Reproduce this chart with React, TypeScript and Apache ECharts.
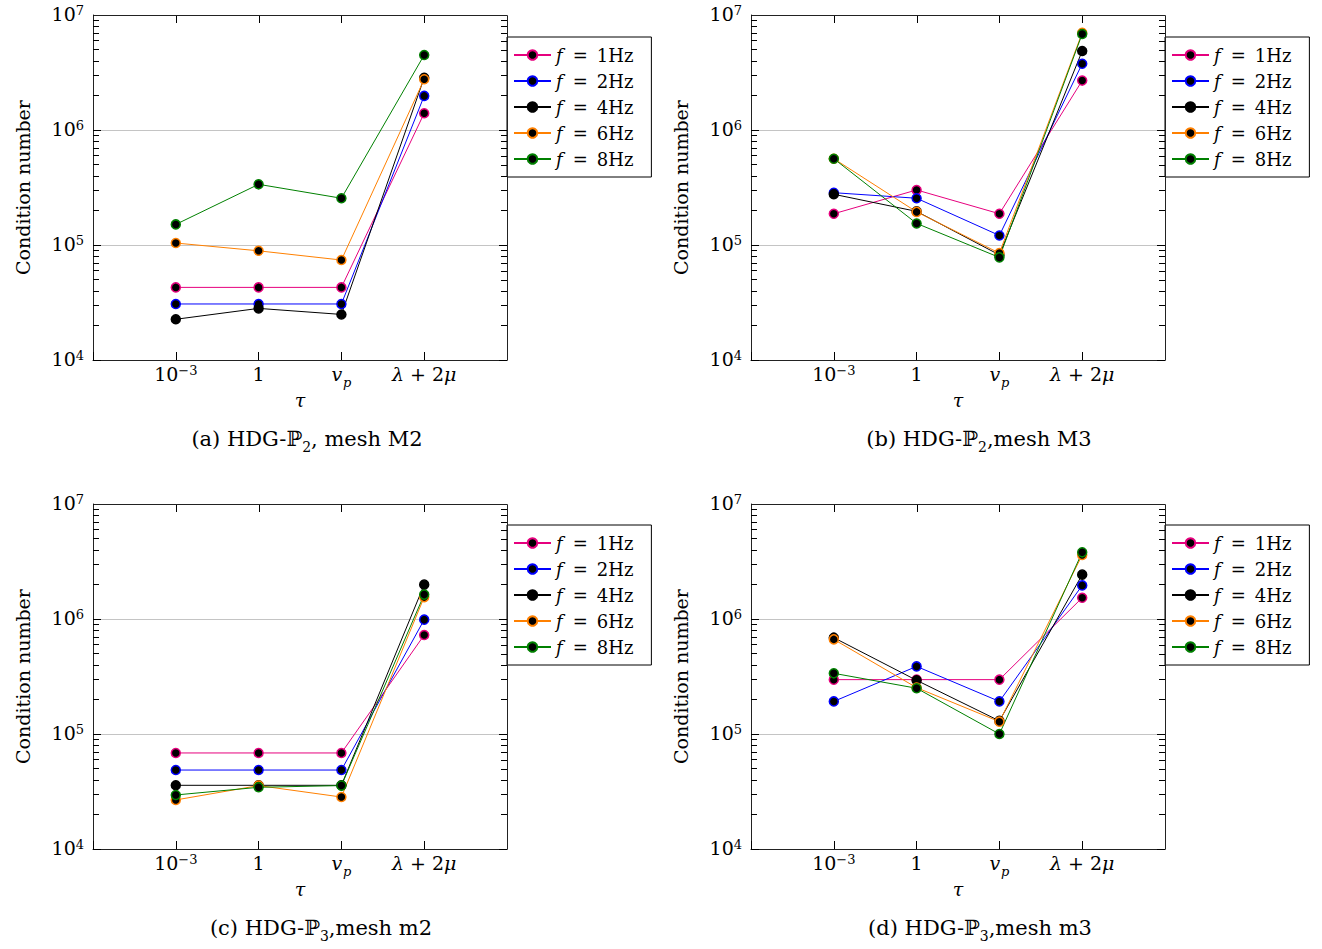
import React, { useEffect, useRef } from 'react';
import * as echarts from 'echarts';

// ---- data ----
const tauLabels = ['{b|10}{s|−3}', '{b|1}', '{i|v}{p|p}', '{i|λ}{b| + 2}{i|μ}'];
const tauPositions = [0, 1, 2, 3];
const seriesNames = ['f = 1Hz', 'f = 2Hz', 'f = 4Hz', 'f = 6Hz', 'f = 8Hz'];
const seriesColors = ['#e6007e', '#0000ff', '#000000', '#ff8000', '#008000'];

// y-axis tick values for the mirrored right-hand ticks (log axis, 10^4 .. 10^7)
const yMajorTicks = [1e4, 1e5, 1e6, 1e7];
const yMinorTicks = [
  2e4, 3e4, 4e4, 5e4, 6e4, 7e4, 8e4, 9e4,
  2e5, 3e5, 4e5, 5e5, 6e5, 7e5, 8e5, 9e5,
  2e6, 3e6, 4e6, 5e6, 6e6, 7e6, 8e6, 9e6,
];

// (a) HDG-P2, mesh M2
const a1Hz = [4.28e4, 4.28e4, 4.28e4, 1.4e6];
const a2Hz = [3.07e4, 3.07e4, 3.07e4, 1.98e6];
const a4Hz = [2.26e4, 2.81e4, 2.49e4, 2.85e6];
const a6Hz = [1.04e5, 8.9e4, 7.4e4, 2.76e6];
const a8Hz = [1.51e5, 3.37e5, 2.55e5, 4.49e6];
// (b) HDG-P2, mesh M3
const b1Hz = [1.87e5, 3.01e5, 1.87e5, 2.69e6];
const b2Hz = [2.85e5, 2.55e5, 1.21e5, 3.77e6];
const b4Hz = [2.76e5, 1.96e5, 8.2e4, 4.86e6];
const b6Hz = [5.63e5, 1.94e5, 8.5e4, 7.0e6];
const b8Hz = [5.63e5, 1.54e5, 7.8e4, 6.84e6];
// (c) HDG-P3, mesh m2
const c1Hz = [6.84e4, 6.84e4, 6.84e4, 7.26e5];
const c2Hz = [4.86e4, 4.86e4, 4.86e4, 9.87e5];
const c4Hz = [3.58e4, 3.58e4, 3.58e4, 1.99e6];
const c6Hz = [2.67e4, 3.56e4, 2.83e4, 1.55e6];
const c8Hz = [2.95e4, 3.44e4, 3.56e4, 1.63e6];
// (d) HDG-P3, mesh m3
const d1Hz = [2.97e5, 2.97e5, 2.97e5, 1.53e6];
const d2Hz = [1.92e5, 3.87e5, 1.92e5, 1.96e6];
const d4Hz = [6.88e5, 2.93e5, 1.3e5, 2.43e6];
const d6Hz = [6.65e5, 2.53e5, 1.28e5, 3.6e6];
const d8Hz = [3.37e5, 2.5e5, 1.0e5, 3.8e6];

const captions = [
  '{t|(a) HDG-ℙ}{sub|2}{t|, mesh M2}',
  '{t|(b) HDG-ℙ}{sub|2}{t|,mesh M3}',
  '{t|(c) HDG-ℙ}{sub|3}{t|,mesh m2}',
  '{t|(d) HDG-ℙ}{sub|3}{t|,mesh m3}',
];

const FONT = '"DejaVu Serif", "Liberation Serif", serif';

const panels = [
  { data: [a1Hz, a2Hz, a4Hz, a6Hz, a8Hz], left: 93, top: 15, legLeft: 507, legTop: 37, cx: 307, cy: 441 },
  { data: [b1Hz, b2Hz, b4Hz, b6Hz, b8Hz], left: 751, top: 15, legLeft: 1165, legTop: 37, cx: 979, cy: 441 },
  { data: [c1Hz, c2Hz, c4Hz, c6Hz, c8Hz], left: 93, top: 504, legLeft: 507, legTop: 525, cx: 321, cy: 930 },
  { data: [d1Hz, d2Hz, d4Hz, d6Hz, d8Hz], left: 751, top: 504, legLeft: 1165, legTop: 525, cx: 980, cy: 930 },
];

const X_MIN = -1;
const X_MAX = 4;
const Y_MIN = 1e4;
const Y_MAX = 1e7;
const tickColor = '#000000';
const borderColor = '#222222';

const crisp = (v: number) => Math.round(v) + 0.5;

export default function App() {
  const ref = useRef<HTMLDivElement>(null);
  useEffect(() => {
    if (!ref.current) return;
    const chart = echarts.init(ref.current, undefined, { renderer: 'svg' });

    const grid: any[] = [];
    const xAxis: any[] = [];
    const yAxis: any[] = [];
    const series: any[] = [];
    const legend: any[] = [];
    const graphic: any[] = [];

    const labelRich = {
      b: { fontSize: 19, fontFamily: FONT, lineHeight: 22, verticalAlign: 'top', color: '#000' },
      i: { fontSize: 19, fontFamily: FONT, fontStyle: 'italic', lineHeight: 22, verticalAlign: 'top', color: '#000' },
      s: { fontSize: 13, fontFamily: FONT, lineHeight: 13, verticalAlign: 'top', color: '#000' },
      p: { fontSize: 13, fontFamily: FONT, fontStyle: 'italic', lineHeight: 13, verticalAlign: 'top', padding: [12, 0, 0, 1], color: '#000' },
    };

    const yTickData = [
      ...yMajorTicks.map((v) => [X_MAX, v, 8]),
      ...yMinorTicks.map((v) => [X_MAX, v, 6]),
    ];
    const xTickData = tauPositions.map((p) => [p, Y_MAX, 8]);

    panels.forEach((pn, gi) => {
      grid.push({ left: pn.left, top: pn.top, width: 414, height: 345 });
      xAxis.push({
        type: 'value', gridIndex: gi, min: X_MIN, max: X_MAX, interval: 1,
        axisLine: { show: true, onZero: false, lineStyle: { color: borderColor, width: 1 } },
        splitLine: { show: false },
        axisTick: { show: true, inside: true, length: 8, lineStyle: { color: tickColor, width: 1 } },
        axisLabel: {
          show: true, margin: 4,
          formatter: (v: number) => (v >= 0 && v < tauLabels.length ? tauLabels[v] : ''),
          rich: labelRich,
        },
        name: 'τ', nameLocation: 'middle', nameGap: 30,
        nameTextStyle: { fontFamily: FONT, fontSize: 19, fontStyle: 'italic', color: '#000' },
      });
      yAxis.push({
        type: 'log', logBase: 10, gridIndex: gi, min: Y_MIN, max: Y_MAX,
        axisLine: { show: true, onZero: false, lineStyle: { color: borderColor, width: 1 } },
        axisTick: { show: true, inside: true, length: 8, lineStyle: { color: tickColor, width: 1 } },
        minorTick: { show: true, splitNumber: 9, length: 6, lineStyle: { color: tickColor, width: 1 } },
        splitLine: { show: true, lineStyle: { color: '#c4c4c4', width: 1 } },
        axisLabel: {
          show: true, margin: 9,
          formatter: (v: number) => '{b|10}{s|' + Math.round(Math.log10(v)) + '}',
          rich: labelRich,
        },
        name: 'Condition number', nameLocation: 'middle', nameGap: 61,
        nameTextStyle: { fontFamily: FONT, fontSize: 19, color: '#000' },
      });

      // mirrored y ticks on the right edge (inward)
      series.push({
        type: 'custom', xAxisIndex: gi, yAxisIndex: gi, silent: true, z: 4, clip: false,
        data: yTickData,
        renderItem: (params: any, api: any) => {
          const v = api.value(1);
          const len = api.value(2);
          const pR = api.coord([X_MAX, v]);
          const y = crisp(pR[1]);
          return { type: 'line', shape: { x1: pR[0] - len, y1: y, x2: pR[0], y2: y }, style: { stroke: tickColor, lineWidth: 1 } };
        },
      });
      // mirrored x ticks on the top edge (inward)
      series.push({
        type: 'custom', xAxisIndex: gi, yAxisIndex: gi, silent: true, z: 4, clip: false,
        data: xTickData,
        renderItem: (params: any, api: any) => {
          const x = api.value(0);
          const len = api.value(2);
          const pT = api.coord([x, Y_MAX]);
          const cx = crisp(pT[0]);
          return { type: 'line', shape: { x1: cx, y1: pT[1], x2: cx, y2: pT[1] + len }, style: { stroke: tickColor, lineWidth: 1 } };
        },
      });

      pn.data.forEach((vals, si) => {
        series.push({
          type: 'line',
          name: seriesNames[si],
          xAxisIndex: gi,
          yAxisIndex: gi,
          data: vals.map((v, j) => [tauPositions[j], v]),
          symbol: 'circle',
          symbolSize: 9,
          lineStyle: { color: seriesColors[si], width: 1 },
          itemStyle: { color: '#000', borderColor: seriesColors[si], borderWidth: 1.5 },
          emphasis: { disabled: true },
          z: 5,
        });
      });

      legend.push({
        left: pn.legLeft, top: pn.legTop,
        orient: 'vertical',
        data: seriesNames,
        selectedMode: false,
        itemWidth: 37, itemHeight: 12, itemGap: 8,
        padding: [9, 18, 9, 6],
        borderColor: '#000', borderWidth: 1, backgroundColor: '#fff',
        formatter: (name: string) => '{i|f}{e|=}{t|' + name.split('= ')[1] + '}',
        textStyle: {
          color: '#000',
          rich: {
            i: { fontSize: 18, fontFamily: FONT, fontStyle: 'italic', lineHeight: 20 },
            e: { fontSize: 18, fontFamily: FONT, lineHeight: 20, padding: [0, 9, 0, 10] },
            t: { fontSize: 18, fontFamily: FONT, lineHeight: 20 },
          },
        },
      });

      // frame top and right edges
      graphic.push({
        type: 'polyline', silent: true, z: 10,
        shape: { points: [[pn.left + 0.5, pn.top + 0.5], [pn.left + 414.5, pn.top + 0.5], [pn.left + 414.5, pn.top + 345.5]] },
        style: { stroke: borderColor, lineWidth: 1, fill: null },
      });

      graphic.push({
        type: 'text', x: pn.cx, y: pn.cy,
        style: {
          text: captions[gi],
          fontFamily: FONT, fontSize: 21,
          textAlign: 'center', textVerticalAlign: 'middle', fill: '#000',
          rich: {
            t: { fontSize: 21, fontFamily: FONT, lineHeight: 26, verticalAlign: 'top' },
            sub: { fontSize: 14, fontFamily: FONT, lineHeight: 14, verticalAlign: 'top', padding: [12, 0, 0, 0] },
          },
        },
      });
    });

    chart.setOption({
      animation: false,
      backgroundColor: '#fff',
      grid, xAxis, yAxis, series, legend, graphic,
    });
    return () => chart.dispose();
  }, []);
  return <div ref={ref} style={{ position: 'fixed', left: 0, top: 0, width: 1322, height: 949 }} />;
}
